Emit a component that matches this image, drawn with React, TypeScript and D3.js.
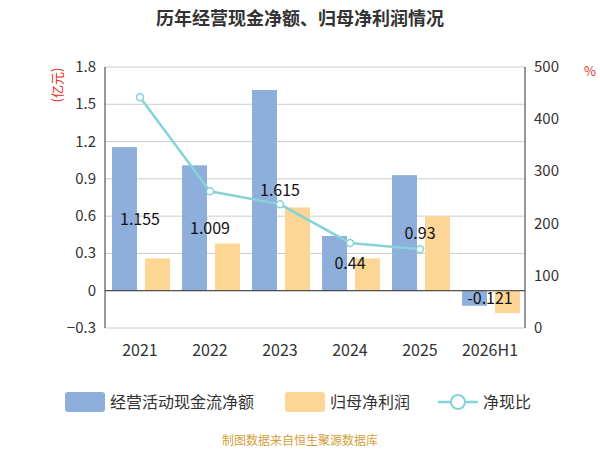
import React from "react";
import * as d3 from "d3";

const categories = ["2021", "2022", "2023", "2024", "2025", "2026H1"];
const cashFlow = [1.155, 1.009, 1.615, 0.44, 0.93, -0.121];
const netProfit = [0.26, 0.38, 0.67, 0.26, 0.6, -0.18];
const ratio: (number | null)[] = [442, 262, 237, 163, 151, null];
const leftTicks = [-0.3, 0, 0.3, 0.6, 0.9, 1.2, 1.5, 1.8];
const rightTicks = [0, 100, 200, 300, 400, 500];

const F = "'Noto Sans CJK SC', 'Noto Sans', sans-serif";

export default function App() {
  const W = 600, H = 450;
  const left = 105, right = 525, top = 67, bottom = 328;
  const x = d3.scaleBand().domain(categories).range([left, right]);
  const y = d3.scaleLinear().domain([-0.3, 1.8]).range([bottom, top]);
  const y2 = d3.scaleLinear().domain([0, 500]).range([bottom, top]);
  const bw = 25;
  const pts = categories.map((c, i) => ({ c, v: ratio[i] })).filter((p) => p.v !== null);
  const line = d3.line<any>().x((p) => x(p.c)! + x.bandwidth() / 2).y((p) => y2(p.v));
  const fmt = (v: number) => (Math.abs(v) < 1e-9 ? "0" : d3.format(".1f")(v));
  return (
    <svg width={W} height={H} style={{ position: "absolute", left: 0, top: 0 }} fontFamily={F}>
      <text x={300} y={25} textAnchor="middle" fontSize={18} fontWeight="bold" fill="#333">历年经营现金净额、归母净利润情况</text>
      {leftTicks.map((t) => (
        <g key={t}>
          <line x1={left} x2={right} y1={y(t)} y2={y(t)} stroke="#ccc" />
          <text x={left - 9} y={y(t) + 5} textAnchor="end" fontSize={15} fill="#333">{fmt(t)}</text>
        </g>
      ))}
      {rightTicks.map((t) => (
        <text key={t} x={right + 9} y={y2(t) + 5} fontSize={15} fill="#333">{t}</text>
      ))}
      <line x1={left} x2={left} y1={top} y2={bottom} stroke="#333" />
      <line x1={right} x2={right} y1={top} y2={bottom} stroke="#333" />
      <text transform={`translate(62,85) rotate(-90)`} textAnchor="middle" fontSize={13} fill="#e0301e">(亿元)</text>
      <text x={590} y={76} textAnchor="middle" fontSize={13} fill="#e0301e">%</text>
      {categories.map((c, i) => {
        const cx = x(c)! + x.bandwidth() / 2;
        return (
          <g key={c}>
            <rect x={cx - bw - 3} width={bw} y={Math.min(y(cashFlow[i]), y(0))} height={Math.abs(y(cashFlow[i]) - y(0))} fill="#8eaedb" />
            <rect x={cx + 5} width={bw} y={Math.min(y(netProfit[i]), y(0))} height={Math.abs(y(netProfit[i]) - y(0))} fill="#fdd696" />
            <text x={cx} y={bottom + 28} textAnchor="middle" fontSize={16} fill="#333">{c}</text>
          </g>
        );
      })}
      <line x1={left} x2={right} y1={y(0)} y2={y(0)} stroke="#333" />
      <path d={line(pts)!} fill="none" stroke="#86d3d8" strokeWidth={2.5} />
      {pts.map((p) => (
        <circle key={p.c} cx={x(p.c)! + x.bandwidth() / 2} cy={y2(p.v as number)} r={3.5} fill="#fff" stroke="#86d3d8" strokeWidth={1.5} />
      ))}
      {categories.map((c, i) => (
        <text key={c} x={x(c)! + x.bandwidth() / 2} y={(y(cashFlow[i]) + y(0)) / 2 + 6} textAnchor="middle" fontSize={16} fill="#111">{cashFlow[i]}</text>
      ))}
      <g fontSize={16} fill="#333">
        <rect x={65} y={392} width={40} height={20} rx={3} fill="#8eaedb" />
        <text x={110} y={408}>经营活动现金流净额</text>
        <rect x={285} y={392} width={40} height={20} rx={3} fill="#fdd696" />
        <text x={330} y={408}>归母净利润</text>
        <line x1={438} x2={478} y1={402} y2={402} stroke="#86d3d8" strokeWidth={2.5} />
        <circle cx={458} cy={402} r={7} fill="#fff" stroke="#86d3d8" strokeWidth={2} />
        <text x={483} y={408}>净现比</text>
      </g>
      <text x={300} y={445} textAnchor="middle" fontSize={12} fill="#d4a03a">制图数据来自恒生聚源数据库</text>
    </svg>
  );
}
